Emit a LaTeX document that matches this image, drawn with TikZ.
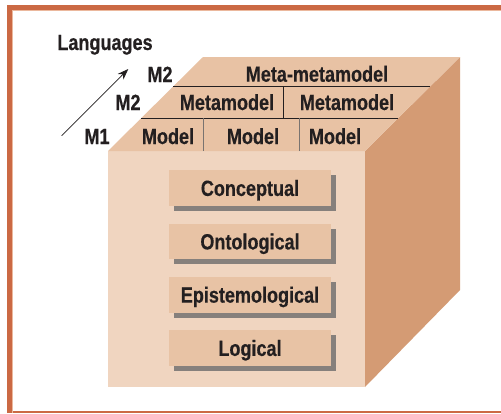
\documentclass[tikz,border=0pt]{standalone}
\usepackage{fontspec}
\setmainfont{Liberation Sans}[FakeStretch=0.82,BoldFeatures={FakeBold=0.4}]
\usetikzlibrary{arrows.meta,shadows}
\definecolor{frameorange}{HTML}{CB6944}
\definecolor{framelight}{HTML}{EBB89D}
\definecolor{topface}{HTML}{E8C2A4}
\definecolor{frontface}{HTML}{F0D5C0}
\definecolor{sideface}{HTML}{D49B74}
\definecolor{boxfill}{HTML}{E8C3A5}
\definecolor{shade}{HTML}{86807C}
\definecolor{ink}{HTML}{231F20}
\tikzset{
  lbl/.style={anchor=base,inner sep=0pt,text=ink,font=\fontsize{22}{25}\selectfont\bfseries},
  levelbox/.style={lbl,anchor=center,fill=boxfill,minimum width=162pt,minimum height=35.7pt,
    text height=15.8pt,text depth=0pt,
    drop shadow={shadow xshift=5pt,shadow yshift=-5pt,fill=shade,opacity=1}},
  rowline/.style={line width=0.8pt,ink},
  cellline/.style={line width=0.8pt,shade!90!black}
}
\begin{document}
\begin{tikzpicture}[x=1pt,y=-1pt]
  \useasboundingbox (0,0) rectangle (501,413);
  \fill[white] (0,0) rectangle (501,413);
  \fill[frameorange] (7,5) rectangle (501,10);
  \fill[frameorange] (7,5) rectangle (12,413);
  \fill[frameorange] (12,411) rectangle (501,413);
  \draw[framelight,line width=0.8pt] (12.4,413) -- (12.4,10.4) -- (501,10.4);

  \coordinate (fl) at (108,151);
  \coordinate (fr) at (365,151);
  \coordinate (br) at (460,57);
  \coordinate (bl) at (203,57);
  \coordinate (dfl) at (108,387);
  \coordinate (dfr) at (365,387);
  \coordinate (dbr) at (460,290);
  \fill[frontface] (fl) -- (fr) -- (dfr) -- (dfl) -- cycle;
  \fill[sideface] (fr) -- (br) -- (dbr) -- (dfr) -- cycle;
  \fill[topface] (fl) -- (bl) -- (br) -- (fr) -- cycle;

  \coordinate (r1l) at (173.2,86.5);
  \coordinate (r1r) at (430.2,86.5);
  \coordinate (r2l) at (141,118.3);
  \coordinate (r2r) at (398,118.3);
  \coordinate (d1t) at (283,86.5);
  \coordinate (d1b) at (283,118.3);
  \coordinate (d2t) at (203,118.3);
  \coordinate (d2b) at (203,151);
  \coordinate (d3t) at (299,118.3);
  \coordinate (d3b) at (299,151);
  \foreach \from/\to in {r1l/r1r,r2l/r2r,d1t/d1b}
    \draw[rowline] (\from) -- (\to);
  \foreach \from/\to in {d2t/d2b,d3t/d3b}
    \draw[cellline] (\from) -- (\to);

  \node[lbl] (lang) at (105,50) {Languages};
  \node[lbl] (m2a) at (160,82) {M2};
  \node[lbl] (m2b) at (128,110) {M2};
  \node[lbl] (m1) at (97,144) {M1};
  \node[lbl] (mmm) at (317,81.7) {Meta-metamodel};
  \node[lbl] (mm1) at (227,110) {Metamodel};
  \node[lbl] (mm2) at (347,110) {Metamodel};
  \node[lbl] (mo1) at (168,144) {Model};
  \node[lbl] (mo2) at (253,144) {Model};
  \node[lbl] (mo3) at (335,144) {Model};

  \coordinate (atail) at (61.7,135.7);
  \coordinate (atip) at (128.3,69);
  \draw[ink,line width=0.8pt,-{Stealth[length=11pt,width=8pt]}] (atail) -- (atip);

  \node[levelbox] (conc) at (250,188) {Conceptual};
  \node[levelbox] (onto) at (250,241.5) {Ontological};
  \node[levelbox] (epis) at (250,294.7) {Epistemological};
  \node[levelbox] (logi) at (250,348) {Logical};
\end{tikzpicture}
\end{document}
